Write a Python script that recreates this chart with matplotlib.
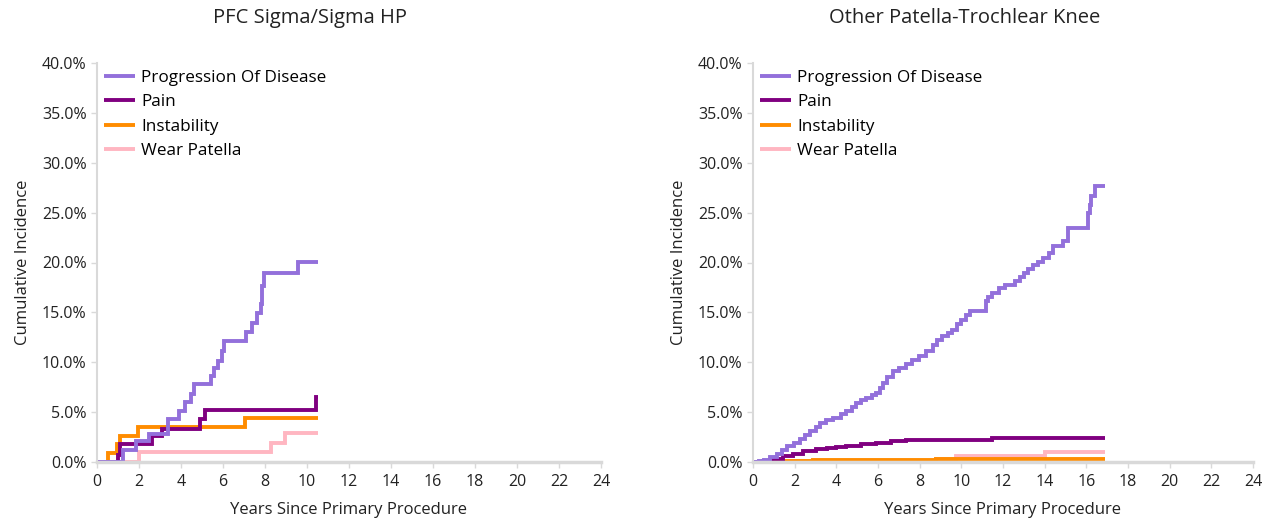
import matplotlib
matplotlib.use("Agg")
import matplotlib.pyplot as plt
from matplotlib.ticker import FuncFormatter, MultipleLocator

plt.rcParams["font.family"] = ["Open Sans", "DejaVu Sans"]

TITLES = ["PFC Sigma/Sigma HP", "Other Patella-Trochlear Knee"]
SERIES = ["Progression Of Disease", "Pain", "Instability", "Wear Patella"]
COLORS = ["#9370DB", "#800080", "#FF8C00", "#FFB6C1"]

# PFC Sigma/Sigma HP (years, cumulative %)
pfc_pod_x = [0, 1.24, 1.87, 2.48, 3.38, 3.9, 4.2, 4.46, 4.6, 5.45, 5.55, 5.76, 5.95, 6.05,
             7.08, 7.4, 7.64, 7.8, 7.85, 7.95, 9.57, 10.52]
pfc_pod_y = [0, 1.2, 2.1, 2.8, 4.3, 5.1, 6.0, 6.8, 7.8, 8.6, 9.4, 10.1, 11.1, 12.1,
             13.0, 13.9, 14.9, 15.8, 17.6, 18.9, 20.1, 20.1]
pfc_pain_x = [0, 1.0, 1.11, 2.63, 3.1, 4.89, 5.13, 10.45, 10.52]
pfc_pain_y = [0, 0.7, 1.8, 2.6, 3.3, 4.3, 5.2, 6.5, 6.5]
pfc_inst_x = [0, 0.53, 0.95, 1.11, 1.95, 7.03, 10.52]
pfc_inst_y = [0, 0.9, 1.8, 2.6, 3.5, 4.4, 4.4]
pfc_wear_x = [0, 2.0, 8.27, 8.94, 10.52]
pfc_wear_y = [0, 1.0, 1.95, 2.95, 2.95]

# Other Patella-Trochlear Knee
oth_pod_x = [0, 0.3, 0.51, 0.8, 1.14, 1.4, 1.62, 1.95, 2.26, 2.5, 2.73, 3.0, 3.21, 3.5,
             3.85, 4.2, 4.48, 4.75, 4.96, 5.2, 5.43, 5.7, 5.91, 6.1, 6.23, 6.45, 6.71,
             7.0, 7.34, 7.65, 7.98, 8.3, 8.62, 8.85, 9.09, 9.35, 9.57, 9.8, 9.96, 10.2,
             10.43, 11.16, 11.3, 11.47, 11.8, 12.11, 12.59, 12.8, 12.99, 13.2, 13.46,
             13.7, 13.94, 14.2, 14.42, 14.89, 15.13, 16.08, 16.16, 16.24, 16.4, 16.88]
oth_pod_y = [0, 0.1, 0.2, 0.5, 0.77, 1.2, 1.62, 1.95, 2.28, 2.7, 3.12, 3.55, 3.95, 4.2,
             4.45, 4.8, 5.12, 5.55, 5.95, 6.2, 6.45, 6.7, 6.95, 7.45, 7.95, 8.5, 9.12,
             9.45, 9.78, 10.2, 10.62, 11.1, 11.7, 12.2, 12.62, 12.95, 13.28, 13.8, 14.28,
             14.7, 15.12, 16.12, 16.5, 16.95, 17.4, 17.78, 18.12, 18.5, 18.95, 19.35,
             19.78, 20.1, 20.45, 21.0, 21.62, 22.12, 23.45, 24.95, 25.8, 26.62, 27.7, 27.7]
oth_pain_x = [0, 0.51, 0.9, 1.46, 1.9, 2.42, 3.0, 3.53, 4.0, 4.48, 5.2, 5.91, 6.6, 7.34,
              11.48, 12.43, 16.88]
oth_pain_y = [0, 0.1, 0.35, 0.6, 0.85, 1.12, 1.3, 1.45, 1.55, 1.62, 1.8, 1.95, 2.1, 2.22,
              2.38, 2.45, 2.45]
oth_inst_x = [0, 0.5, 2.9, 8.8, 16.88]
oth_inst_y = [0, 0.1, 0.2, 0.3, 0.3]
oth_wear_x = [0, 8.8, 9.75, 14.0, 16.88]
oth_wear_y = [0, 0.35, 0.62, 1.0, 1.0]

panels = [
    [(pfc_pod_x, pfc_pod_y), (pfc_pain_x, pfc_pain_y), (pfc_inst_x, pfc_inst_y), (pfc_wear_x, pfc_wear_y)],
    [(oth_pod_x, oth_pod_y), (oth_pain_x, oth_pain_y), (oth_inst_x, oth_inst_y), (oth_wear_x, oth_wear_y)],
]

W, H = 1277, 524
fig = plt.figure(figsize=(W / 100, H / 100), dpi=100)
axes_px = [(97, 601), (753, 1253)]
title_cx = [310, 965]
grey = "#d9d9d9"

for i, (x0, x1) in enumerate(axes_px):
    ax = fig.add_axes([x0 / W, 1 - 462 / H, (x1 - x0) / W, (462 - 63) / H])
    # draw in reverse so progression sits on top
    for k in [3, 2, 1, 0]:
        xs, ys = panels[i][k]
        ax.step(xs, ys, where="post", color=COLORS[k], lw=2.8, label=SERIES[k],
                solid_capstyle="butt", solid_joinstyle="miter")
    ax.set_xlim(0, 24)
    ax.set_ylim(0, 40)
    ax.xaxis.set_major_locator(MultipleLocator(2))
    ax.yaxis.set_major_locator(MultipleLocator(5))
    ax.yaxis.set_major_formatter(FuncFormatter(lambda v, p: f"{v:.1f}%"))
    for s in ["top", "right"]:
        ax.spines[s].set_visible(False)
    ax.spines["left"].set_color(grey)
    ax.spines["left"].set_linewidth(1.5)
    ax.spines["bottom"].set_color(grey)
    ax.spines["bottom"].set_linewidth(2.5)
    ax.tick_params(axis="both", colors=grey, labelcolor="#222222", labelsize=11.5,
                   length=4, width=1)
    ax.tick_params(axis="x", pad=5)
    ax.set_xlabel("Years Since Primary Procedure", fontsize=12, color="#222222", labelpad=8)
    ax.set_ylabel("Cumulative Incidence", fontsize=12, color="#222222", labelpad=8)
    handles, labels = ax.get_legend_handles_labels()
    ax.legend(handles[::-1], labels[::-1], loc="upper left", bbox_to_anchor=(0.0, 1.0),
              frameon=False, fontsize=12.3, handlelength=1.8, handletextpad=0.4,
              labelspacing=0.5, borderaxespad=0.0)
    fig.text(title_cx[i] / W, 1 - 18 / H, TITLES[i], ha="center", va="center",
             fontsize=14.5, color="#222222")

fig.savefig("out.png", dpi=100)
